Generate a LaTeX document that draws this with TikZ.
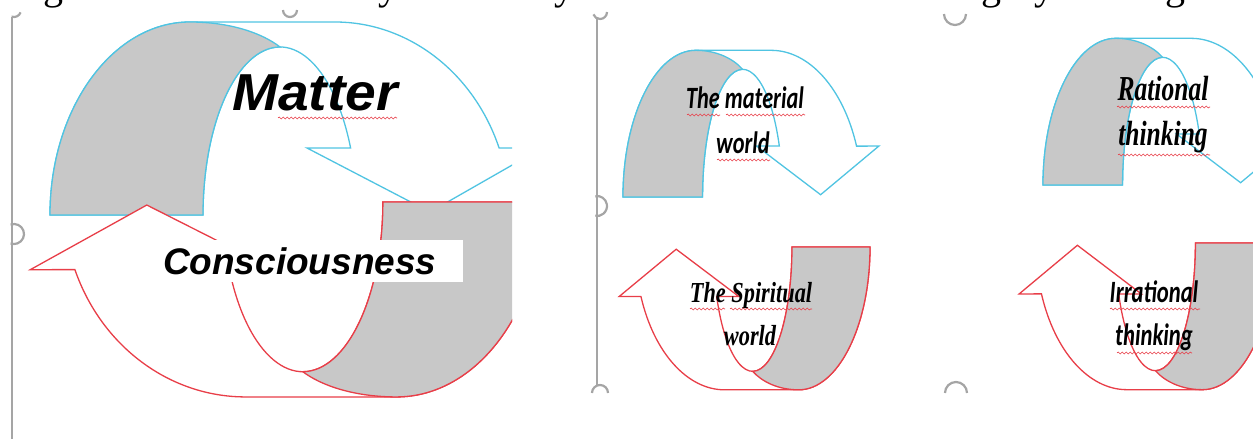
\documentclass[tikz,border=0pt]{standalone}
\usepackage{fontspec}
\setmainfont{Liberation Serif}
\newfontfamily\headfont{Liberation Sans}
\newfontfamily\calfont{Carlito}
\usetikzlibrary{decorations.pathmorphing}

\definecolor{arrowblue}{RGB}{80,196,226}
\definecolor{arrowred}{RGB}{232,62,72}
\definecolor{facegray}{RGB}{200,200,200}
\definecolor{framegray}{RGB}{165,165,165}

\tikzset{
  pics/uturn/.style={code={
    \draw[#1, line width=1.3pt, fill=white] (0,0) arc[start angle=180, end angle=90, x radius=140, y radius=193]
      -- (285,193) arc[start angle=90, end angle=20.3, x radius=175, y radius=193]
      -- (492,67) -- (380,3) -- (257,67) -- (300.6,67)
      arc[start angle=23.5, end angle=180, x radius=77, y radius=168] -- cycle;
    \draw[#1, line width=1.3pt, fill=facegray] (0,0) arc[start angle=180, end angle=90, x radius=140, y radius=193]
      .. controls (180,193) and (212,182) .. (230,168)
      arc[start angle=90, end angle=180, x radius=77, y radius=168] -- cycle;
  }},
  squiggle/.style={arrowred, line width=0.6pt, decorate, decoration={snake, amplitude=1pt, segment length=4pt}},
  handle/.style={framegray, line width=2.2pt},
  frameline/.style={framegray, line width=1.3pt},
  topglyph/.style={anchor=base, inner sep=0pt, font=\fontsize{40}{40}\selectfont},
  bigsans/.style={font=\headfont\bfseries\itshape\fontsize{52}{52}\selectfont},
  calib/.style={anchor=base, inner sep=0pt, font=\calfont\bfseries\itshape\fontsize{31}{31}\selectfont},
  serifbi/.style={anchor=base, inner sep=0pt, font=\rmfamily\bfseries\itshape\fontsize{#1}{#1}\selectfont}
}

\begin{document}
\begin{tikzpicture}[x=1pt, y=-1pt]
    \useasboundingbox (0,0) rectangle (1253,439);
    % Cut text line above the pictures.
        \node[topglyph] (g1) at (53,-1) {g};
        \node[topglyph] (y1) at (388,-1) {y};
        \node[topglyph] (y2) at (564,-1) {y};
        \node[topglyph] (g2) at (991,-1) {g};
        \node[topglyph] (y3) at (1044,-1) {y};
        \node[topglyph] (g3) at (1175,-1) {g};
    % Frames and handles.
        \draw[frameline] (12,17) -- (12,439);
        \draw[frameline] (597,17) -- (597,385);
        \draw[handle] (14,10) ++(20:7) arc[start angle=20, end angle=110, radius=7];
        \draw[handle] (297,10) arc[start angle=0, end angle=180, radius=7];
        \draw[handle] (607,12) arc[start angle=0, end angle=160, radius=7];
        \draw[handle] (14,234) ++(-110:10) arc[start angle=-110, end angle=110, radius=10];
        \draw[handle] (597,206) ++(-100:10) arc[start angle=-100, end angle=100, radius=10];
        \draw[handle] (592,393) arc[start angle=180, end angle=360, radius=8];
        \draw[handle] (966,14) arc[start angle=0, end angle=180, radius=11];
        \draw[handle] (945,393) arc[start angle=180, end angle=360, radius=11];
    % Big cycle.
    \begin{scope}
        \clip (0,0) rectangle (512,439);
        \begin{scope}[shift={(50,215)}, yscale=-1, transform shape]
            \pic {uturn=arrowblue};
        \end{scope}
        \begin{scope}[shift={(542,202)}, xscale=-1.04, yscale=1.01, transform shape]
            \pic {uturn=arrowred};
        \end{scope}
    \end{scope}
    % Small cycles.
    \begin{scope}[shift={(623,197)}, xscale=0.52, yscale=-0.76, transform shape]
        \pic {uturn=arrowblue};
    \end{scope}
    \begin{scope}[shift={(870,247)}, xscale=-0.51, yscale=0.74, transform shape]
        \pic {uturn=arrowred};
    \end{scope}
    \begin{scope}[shift={(1043,185)}, xscale=0.52, yscale=-0.76, transform shape]
        \pic {uturn=arrowblue};
    \end{scope}
    \begin{scope}[shift={(1275,243)}, xscale=-0.52, yscale=0.76, transform shape]
        \pic {uturn=arrowred};
    \end{scope}
    % Below nodes are the labels.
        \node[bigsans, anchor=base, inner sep=0pt] (matter) at (315,110) {\scalebox{1.06}[1]{Matter}};
        \node[fill=white, inner xsep=5pt, inner ysep=0pt, minimum height=42pt, text width=295pt, align=left,
              font=\headfont\bfseries\itshape\fontsize{37}{37}\selectfont] (consc) at (310.5,261) {Consciousness};
        \node[calib] (mat1) at (745,108) {\scalebox{0.72}[1]{The material}};
        \node[calib] (mat2) at (743,153) {\scalebox{0.72}[1]{world}};
        \node[serifbi=29] (spi1) at (751,302) {\scalebox{0.77}[1]{The Spiritual}};
        \node[serifbi=29] (spi2) at (750,345) {\scalebox{0.77}[1]{world}};
        \node[serifbi=35] (rat1) at (1163,100) {\scalebox{0.73}[1]{Rational}};
        \node[serifbi=35] (rat2) at (1163,145) {\scalebox{0.73}[1]{thinking}};
        \node[calib] (irr1) at (1154,302) {\scalebox{0.73}[1]{Irrational}};
        \node[calib] (irr2) at (1154,345) {\scalebox{0.73}[1]{thinking}};
    % Spelling marks under the words.
        \draw[squiggle] (278,118) -- (397,118);
        \draw[squiggle] (687,115) -- (720,115);
        \draw[squiggle] (726,115) -- (805,115);
        \draw[squiggle] (717,160) -- (770,160);
        \draw[squiggle] (690,309) -- (725,309);
        \draw[squiggle] (730,309) -- (812,309);
        \draw[squiggle] (1117,107) -- (1210,107);
        \draw[squiggle] (1118,155) -- (1210,155);
        \draw[squiggle] (1110,309) -- (1200,309);
        \draw[squiggle] (1117,353) -- (1192,353);
\end{tikzpicture}
\end{document}
